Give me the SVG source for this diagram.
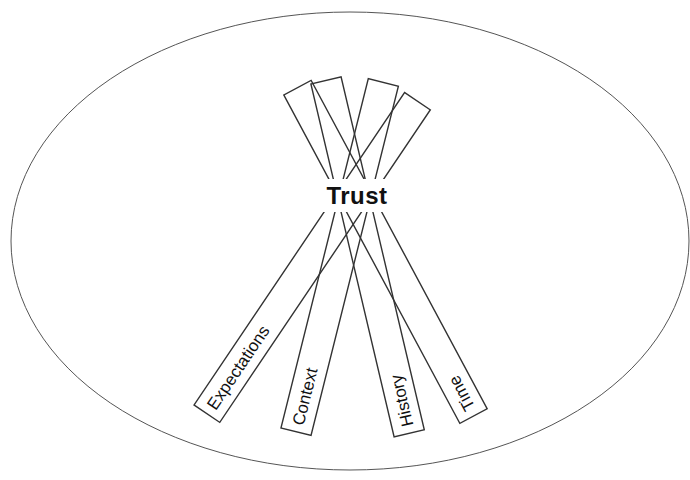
<svg xmlns="http://www.w3.org/2000/svg" width="690" height="480" viewBox="0 0 690 480">
  <style>
    .stick { fill: none; stroke: #333; stroke-width: 1.4; }
    .lbl { font-family: "Liberation Sans", Arial, sans-serif; font-size: 17px; fill: #111; }
    .trust { font-family: "Liberation Sans", Arial, sans-serif; font-size: 24px; font-weight: bold; fill: #111; letter-spacing: 0.5px; }
  </style>
  <rect width="690" height="480" fill="#fff"/>
  <g id="boundary">
    <ellipse cx="350" cy="241" rx="339" ry="229" fill="none" stroke="#555" stroke-width="1"/>
  </g>
  <g id="connectors">
    <g id="expectations" transform="translate(206.9,413.7) rotate(-56.03)">
      <rect class="stick" x="0" y="-15.5" width="376.8" height="31"/>
      <text class="lbl" x="7" y="6">Expectations</text>
    </g>
    <g id="context" transform="translate(296,431.7) rotate(-75.96)">
      <rect class="stick" x="0" y="-15.5" width="360" height="31"/>
      <text class="lbl" x="7" y="6">Context</text>
    </g>
    <g id="history" transform="translate(409.2,433.3) rotate(-103.27)">
      <rect class="stick" x="0" y="-15.5" width="362.5" height="31"/>
      <text class="lbl" x="7" y="6">History</text>
    </g>
    <g id="time" transform="translate(473.5,416) rotate(-118.2)">
      <rect class="stick" x="0" y="-15.5" width="372.5" height="31"/>
      <text class="lbl" x="7" y="6">Time</text>
    </g>
  </g>
  <g id="trust">
    <rect x="312" y="179" width="92" height="33" fill="#fff"/>
    <text class="trust" x="357" y="204" text-anchor="middle">Trust</text>
  </g>
</svg>
